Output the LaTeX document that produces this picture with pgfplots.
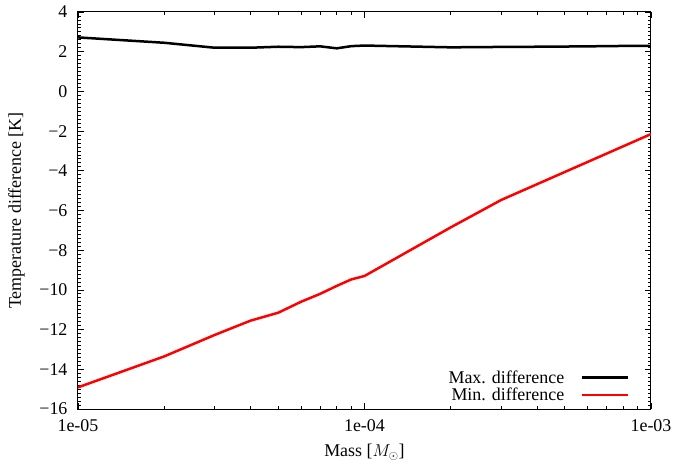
\documentclass[border=0pt]{standalone}
\usepackage{fontspec}
\setmainfont{Liberation Serif}
\usepackage{pgfplots}
\pgfplotsset{compat=1.18}
\begin{document}
\begin{tikzpicture}[font=\fontsize{18}{21}\selectfont]
\begin{axis}[
  scale only axis,
  width=573bp, height=397bp,
  xmode=log,
  xmin=1e-5, xmax=1e-3,
  ymin=-16, ymax=4,
  xtick={1e-5,1e-4,1e-3},
  xticklabels={1e-05,1e-04,1e-03},
  ytick={-16,-14,...,4},
  yticklabels={−16,−14,−12,−10,−8,−6,−4,−2,0,2,4},
  minor y tick num=9,
  tick align=inside,
  tick pos=both,
  major tick length=6bp,
  minor tick length=3bp,
  axis line style={line width=1bp},
  every tick/.style={black, line width=0.8bp},
  xticklabel style={yshift=-7bp},
  yticklabel style={xshift=-7bp},
  xlabel={Mass [$M_\odot$]},
  ylabel={Temperature difference [K]},
  xlabel style={yshift=-6bp},
  ylabel style={yshift=8bp},
  legend style={draw=none, fill=none, at={(rel axis cs:0.965,0.01)}, anchor=south east, row sep=-1bp, font=\fontsize{18}{21}\selectfont, inner sep=1bp},
  legend cell align=right,
  legend plot pos=right,
  legend image code/.code={\path (0bp,0bp); \draw[#1] (15bp,0bp) -- (61bp,0bp);},
]
\coordinate (bl) at (rel axis cs:0,0);
\coordinate (tr) at (rel axis cs:1,1);
\addplot[black, line width=2.5bp] coordinates {
(1e-5,2.72) (2e-5,2.45) (3e-5,2.2) (4e-5,2.2) (5e-5,2.25) (6e-5,2.23) (7e-5,2.27) (8e-5,2.17) (9e-5,2.28) (1e-4,2.31)
(2e-4,2.22) (3e-4,2.24) (4e-4,2.25) (5e-4,2.26) (6e-4,2.27) (7e-4,2.28) (8e-4,2.29) (9e-4,2.29) (1e-3,2.3)
};
\addlegendentry{Max. difference}
\addplot[red, line width=2.5bp] coordinates {
(1e-5,-14.91) (2e-5,-13.35) (3e-5,-12.27) (4e-5,-11.55) (5e-5,-11.15) (6e-5,-10.6) (7e-5,-10.2) (8e-5,-9.8) (9e-5,-9.47) (1e-4,-9.3)
(2e-4,-6.85) (3e-4,-5.47) (1e-3,-2.15)
};
\addlegendentry{Min. difference}
\end{axis}
\pgfresetboundingbox
\path ([xshift=-78bp,yshift=-57bp]bl) rectangle ([xshift=25bp,yshift=12bp]tr);
\end{tikzpicture}
\end{document}
